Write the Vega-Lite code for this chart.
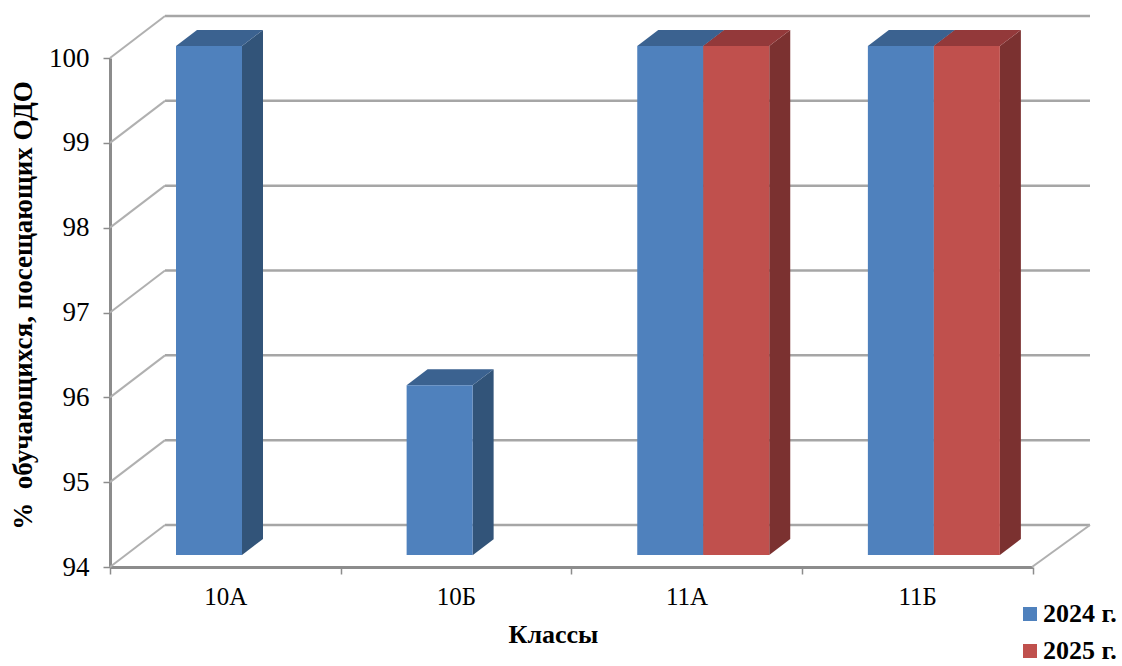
{
  "$schema": "https://vega.github.io/schema/vega-lite/v6.json",
  "width": 922.5,
  "height": 509,
  "autosize": "none",
  "padding": {"left": 110, "top": 58, "right": 89.5, "bottom": 99},
  "background": "white",
  "config": {"view": {"stroke": null}, "font": "Liberation Serif"},
  "datasets": {
    "bars": [
      {"class": "10А", "year": "2024 г.", "value": 100},
      {"class": "10Б", "year": "2024 г.", "value": 96},
      {"class": "11А", "year": "2024 г.", "value": 100},
      {"class": "11Б", "year": "2024 г.", "value": 100},
      {"class": "11А", "year": "2025 г.", "value": 100},
      {"class": "11Б", "year": "2025 г.", "value": 100}
    ],
    "levels": [{"level": 94}, {"level": 95}, {"level": 96}, {"level": 97}, {"level": 98}, {"level": 99}, {"level": 100}]
  },
  "layer": [
    {
      "data": {"name": "levels"},
      "mark": {"type": "rule", "color": "#A6A6A6", "strokeWidth": 2.5, "xOffset": 55, "x2Offset": 55, "yOffset": -42, "y2Offset": -42},
      "encoding": {
        "x": {"datum": 0, "type": "quantitative", "scale": {"domain": [0, 922.5]}, "axis": null},
        "x2": {"datum": 925},
        "y": {
          "field": "level", "type": "quantitative",
          "scale": {"domain": [94, 100], "nice": false, "zero": false},
          "axis": {
            "title": "%\u00a0\u00a0обучающихся, посещающих ОДО", "titleFontSize": 27, "titleFontWeight": "bold", "titleColor": "black", "titleX": -73, "titleY": 247,
            "values": [94, 95, 96, 97, 98, 99, 100], "format": "d", "labelFontSize": 27, "labelColor": "black", "labelPadding": 14,
            "domainColor": "#8C8C8C", "domainWidth": 3, "tickColor": "#8C8C8C", "tickWidth": 1.5, "tickSize": 7, "grid": false
          }
        },
        "y2": {"field": "level"}
      }
    },
    {
      "data": {"name": "levels"},
      "mark": {"type": "rule", "color": "#B0B0B0", "strokeWidth": 2, "y2Offset": -42},
      "encoding": {
        "x": {"datum": 0, "type": "quantitative", "scale": {"domain": [0, 922.5]}, "axis": null},
        "x2": {"datum": 55},
        "y": {"field": "level", "type": "quantitative"},
        "y2": {"field": "level"}
      }
    },
    {
      "data": {"values": [{"level": 94}]},
      "mark": {"type": "rule", "color": "#B0B0B0", "strokeWidth": 2, "y2Offset": -42},
      "encoding": {
        "x": {"datum": 922, "type": "quantitative", "scale": {"domain": [0, 922.5]}, "axis": null},
        "x2": {"datum": 980},
        "y": {"field": "level", "type": "quantitative"},
        "y2": {"field": "level"}
      }
    },
    {
      "data": {"name": "bars"},
      "encoding": {
        "x": {
          "field": "class", "type": "nominal",
          "scale": {"domain": ["10А", "10Б", "11А", "11Б"], "paddingInner": 0, "paddingOuter": 0},
          "axis": {
            "title": "Классы", "titleFontSize": 26, "titleFontWeight": "bold", "titleColor": "black", "titleX": 443, "titleY": 54,
            "labelAngle": 0, "labelFontSize": 25, "labelColor": "black", "labelPadding": 10,
            "domainColor": "#8C8C8C", "domainWidth": 3, "tickColor": "#8C8C8C", "tickWidth": 1.5, "tickSize": 7, "tickBand": "extent", "grid": false
          }
        },
        "xOffset": {"field": "year", "type": "nominal", "scale": {"domain": ["2024 г.", "2025 г."], "range": [66, 198]}},
        "y": {"field": "value", "type": "quantitative", "stack": null}
      },
      "layer": [
        {
          "mark": {"type": "point", "filled": true, "opacity": 1, "size": 4, "strokeWidth": 0, "yOffset": -12},
          "encoding": {
            "shape": {"condition": {"test": "datum.value == 100", "value": "M33,0L54,-16L54,493L33,509Z"}, "value": "M33,0L54,-16L54,154L33,170Z"},
            "color": {"condition": {"test": "datum.year == '2024 г.'", "value": "#325479"}, "value": "#7B3130"}
          }
        },
        {
          "mark": {"type": "point", "filled": true, "opacity": 1, "size": 4, "strokeWidth": 0, "shape": "M-33,0L-12,-16L54,-16L33,0Z", "yOffset": -12},
          "encoding": {
            "color": {"condition": {"test": "datum.year == '2024 г.'", "value": "#3B6290"}, "value": "#93393A"}
          }
        },
        {
          "mark": {"type": "bar", "yOffset": -12, "y2Offset": -12},
          "encoding": {
            "y2": {"datum": 94},
            "color": {
              "field": "year", "type": "nominal",
              "scale": {"domain": ["2024 г.", "2025 г."], "range": ["#4F81BD", "#C0504D"]},
              "legend": {
                "title": null, "orient": "none", "legendX": 907, "legendY": 543, "symbolType": "square", "symbolSize": 196, "symbolStrokeWidth": 0,
                "labelFontSize": 26, "labelFontWeight": "bold", "labelColor": "black", "labelOffset": 0, "rowPadding": 11, "symbolOpacity": 1, "labelLimit": 0
              }
            }
          }
        }
      ]
    }
  ],
  "resolve": {"scale": {"x": "independent"}}
}
